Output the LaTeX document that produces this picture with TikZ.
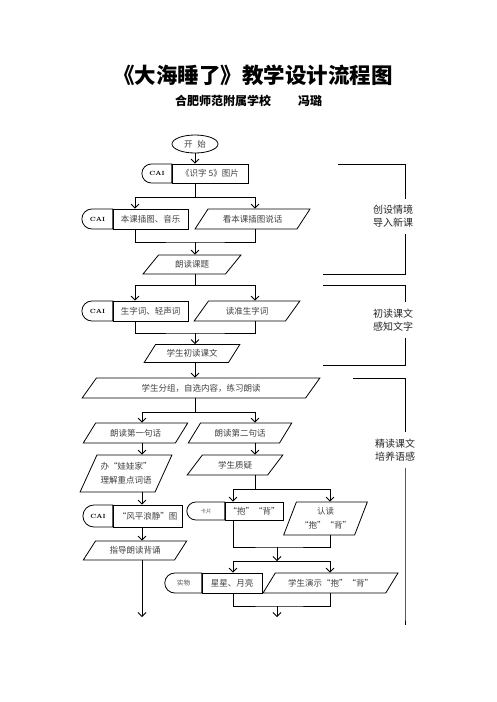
\documentclass[tikz,border=0pt]{standalone}
\usepackage{fontspec}
\newfontfamily\cjk{Noto Sans CJK SC}
\usetikzlibrary{shapes.geometric,shapes.misc,arrows.meta}

\begin{document}
\begin{tikzpicture}[x=1pt,y=-1pt,line width=0.8pt,
  font=\cjk\fontsize{8.5}{12}\selectfont,
  arr/.style={-{Straight Barb[length=4pt,width=8pt]}},
  box/.style={draw,minimum height=20,inner sep=0pt,text=black!75},
  cai/.style={draw,rounded rectangle,rounded rectangle right arc=none,
    minimum height=20,inner sep=0pt,font=\bfseries\fontsize{6}{7}\selectfont},
  para/.style={draw,trapezium,trapezium left angle=45,trapezium right angle=135,
    trapezium stretches=true,minimum height=20,inner sep=0pt,text=black!75,align=center},
  side/.style={font=\cjk\fontsize{10}{13}\selectfont,align=center,text=black!85,inner sep=6pt},
  ]

\useasboundingbox (0,0) rectangle (496,702);

% title
\node[font=\cjk\bfseries\fontsize{21.5}{24}\selectfont] (title) at (253,75) {《大海睡了》教学设计流程图};
\node[font=\cjk\bfseries\fontsize{12}{14}\selectfont] (school) at (223,101) {合肥师范附属学校};
\node[font=\cjk\bfseries\fontsize{12}{14}\selectfont] (author) at (310,101) {冯璐};

% column positions
\coordinate (cl) at (135,0);
\coordinate (cm) at (195,0);
\coordinate (cr) at (255,0);
\coordinate (dl) at (142,0);
\coordinate (el) at (233,0);
\coordinate (em) at (277,0);
\coordinate (er) at (330,0);
\coordinate (sx) at (405,0);

% first part
\node[draw,ellipse,minimum width=46,minimum height=18,inner sep=0pt,text=black!75] (start) at (195,144) {开\hspace{5pt}始};
\node[cai,minimum width=30,minimum height=19] (c1) at (157,173.5) {CAI};
\node[box,minimum width=76,minimum height=19] (pic1) at (210,173.5) {《识字 5》图片};

\node[cai,minimum width=31] (c2) at (97.5,219) {CAI};
\node[box,minimum width=75] (ill) at (150.5,219) {本课插图、音乐};
\node[para,minimum width=115,trapezium left angle=42,trapezium right angle=138] (talk) at (252.5,219) {看本课插图说话};

\node[para,minimum width=98,minimum height=19] (ldkt) at (192,264.5) {朗读课题};

\node[cai,minimum width=31] (c3) at (97.5,311) {CAI};
\node[box,minimum width=75] (new) at (150.5,311) {生字词、轻声词};
\node[para,minimum width=106] (read) at (247,311) {读准生字词};

\node[para,minimum width=96,minimum height=18] (first) at (192,353.5) {学生初读课文};

% reading in groups
\node[para,minimum width=238] (group) at (201,388) {学生分组，自选内容，练习朗读};
\node[para,minimum width=105] (sent1) at (135.5,433) {朗读第一句话};
\node[para,minimum width=104] (sent2) at (240,433) {朗读第二句话};

\node[para,minimum width=92,minimum height=37,trapezium left angle=56,trapezium right angle=124] (play) at (126,473.5) {办“娃娃家”\\[2pt]理解重点词语};
\node[para,minimum width=96] (ask) at (235,465) {学生质疑};

\node[cai,minimum width=30,minimum height=22] (c4) at (98,516) {CAI};
\node[box,minimum width=69,minimum height=22] (wind) at (147.5,516) {“风平浪静”图};
\node[para,minimum width=104,minimum height=19] (guide) at (135,550.5) {指导朗读背诵};

\node[cai,minimum width=38,minimum height=18,font=\cjk\fontsize{5.5}{7}\selectfont,text=black!60] (c5) at (206,511) {卡片};
\node[box,minimum width=58,minimum height=18] (bei) at (254,511) {“抱”“背”};
\node[para,minimum width=84,minimum height=33,trapezium left angle=63,trapezium right angle=117] (recog) at (325.5,518.5) {认读\\[2pt]“抱”“背”};

\node[cai,minimum width=37,font=\cjk\fontsize{6.5}{7}\selectfont,text=black!70] (c6) at (183.5,583) {实物};
\node[box,minimum width=60] (star) at (232,583) {星星、月亮};
\node[para,minimum width=135,trapezium left angle=40,trapezium right angle=140] (demo) at (330.5,583) {学生演示“抱”“背”};

% connectors
\coordinate (f1) at (195,197);
\coordinate (m1) at (195,242);
\coordinate (f2) at (195,285);
\coordinate (m2) at (195,333);
\coordinate (f3) at (195,412);
\coordinate (f4) at (255,489);
\coordinate (m4) at (277,547);
\coordinate (f5) at (277,561);
\coordinate (m5) at (277,606);
\coordinate (end1) at (142,617);
\coordinate (end2) at (277,617);

\draw[arr] (start) -- (pic1.north -| cm);
\draw (pic1.south -| cm) -- (f1);
\draw[arr] (f1) -| (ill.north -| cl);
\draw[arr] (f1) -| (talk.north -| cr);
\draw (ill.south -| cl) |- (m1) -| (talk.south -| cr);
\draw[arr] (m1) -- (ldkt.north -| cm);

\draw (ldkt.south -| cm) -- (f2);
\draw[arr] (f2) -| (new.north -| cl);
\draw[arr] (f2) -| (read.north -| cr);
\draw (new.south -| cl) |- (m2) -| (read.south -| cr);
\draw[arr] (m2) -- (first.north -| cm);
\draw[arr] (first.south -| cm) -- (group.north -| cm);

\draw (group.south -| cm) -- (f3);
\draw[arr] (f3) -| (sent1.north -| dl);
\draw[arr] (f3) -| (sent2.north -| cr);

\draw[arr] (sent1.south -| dl) -- (play.north -| dl);
\draw[arr] (play.south -| dl) -- (wind.north -| dl);
\draw[arr] (wind.south -| dl) -- (guide.north -| dl);
\draw[arr] (guide.south -| dl) -- (end1);

\draw[arr] (sent2.south -| cr) -- (ask.north -| cr);
\draw (ask.south -| cr) -- (f4);
\draw[arr] (f4) -| (bei.north -| el);
\draw[arr] (f4) -| (recog.north -| er);
\draw (bei.south -| el) |- (m4) -| (recog.south -| er);
\draw[arr] (m4) -- (f5);
\draw[arr] (f5) -| (star.north -| el);
\draw[arr] (f5) -| (demo.north -| er);
\draw (star.south -| el) |- (m5) -| (demo.south -| er);
\draw[arr] (m5) -- (end2);

% stages on the right
\node[side] (stage1) at (393,216.5) {创设情境\\导入新课};
\draw (338,164) -| (stage1.north -| sx);
\draw (stage1.south -| sx) |- (323,274);

\node[side] (stage2) at (393,320) {初读课文\\感知文字};
\draw (323,285) -| (stage2.north -| sx);
\draw (stage2.south -| sx) |- (323,365);

\node[side] (stage3) at (395,450) {精读课文\\培养语感};
\draw (353,378) -| (stage3.north -| sx);
\draw (stage3.south -| sx) -- (sx |- end2) -- ++(0,8);

\end{tikzpicture}
\end{document}
